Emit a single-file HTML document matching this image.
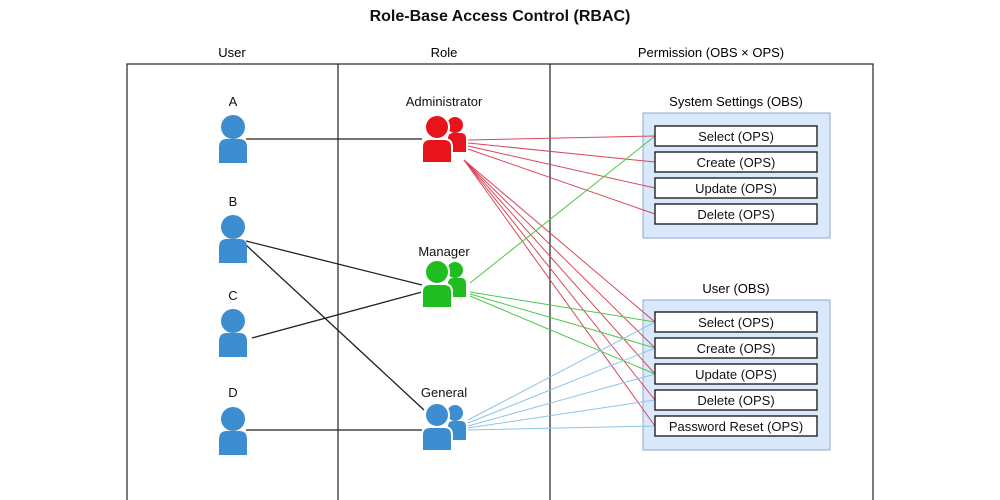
<!DOCTYPE html>
<html><head><style>
body{margin:0;background:#fff;}
svg{display:block;font-family:"Liberation Sans",sans-serif;}
</style></head><body>
<svg width="1000" height="500" viewBox="0 0 1000 500">
<defs>
<g id="u">
<circle cx="0" cy="-12" r="12"/>
<path d="M-14,24 L-14,8 Q-14,0 -6,0 L6,0 Q14,0 14,8 L14,24 Z"/>
</g>
<g id="g">
<circle cx="18" cy="-14" r="8"/>
<path d="M11,13 L11,0 Q11,-6 16,-6 L24,-6 Q29,-6 29,0 L29,13 Z"/>
<circle cx="0" cy="-12" r="12" stroke="#fff" stroke-width="2"/>
<path d="M-15,24 L-15,8 Q-15,0 -7,0 L7,0 Q15,0 15,8 L15,24 Z" stroke="#fff" stroke-width="2"/>
</g>
</defs>
<text x="500" y="21" text-anchor="middle" font-size="16" font-weight="bold" fill="#111">Role-Base Access Control (RBAC)</text>
<text x="232" y="57" text-anchor="middle" font-size="13">User</text>
<text x="444" y="57" text-anchor="middle" font-size="13">Role</text>
<text x="711" y="57" text-anchor="middle" font-size="13">Permission (OBS × OPS)</text>
<rect x="127" y="64" width="746" height="440" fill="none" stroke="#222" stroke-width="1.2"/>
<line x1="338" y1="64" x2="338" y2="500" stroke="#222" stroke-width="1.2"/>
<line x1="550" y1="64" x2="550" y2="500" stroke="#222" stroke-width="1.2"/>

<rect x="643" y="113" width="187" height="125" fill="#dae8fc" stroke="#8fa9cf"/>
<rect x="643" y="300" width="187" height="150" fill="#dae8fc" stroke="#8fa9cf"/>
<text x="736" y="106" text-anchor="middle" font-size="13">System Settings (OBS)</text>
<text x="736" y="293" text-anchor="middle" font-size="13">User (OBS)</text>

<g stroke="#222" stroke-width="1.3">
<line x1="246" y1="139" x2="422" y2="139"/>
<line x1="246" y1="241" x2="422" y2="285"/>
<line x1="246" y1="245" x2="424" y2="410"/>
<line x1="252" y1="338" x2="422" y2="292"/>
<line x1="246" y1="430" x2="422" y2="430"/>
</g>
<g stroke="#d9475a" stroke-width="1">
<line x1="468" y1="140" x2="655" y2="136"/>
<line x1="468" y1="143" x2="655" y2="162"/>
<line x1="468" y1="146" x2="655" y2="188"/>
<line x1="468" y1="149" x2="655" y2="214"/>
<line x1="464" y1="160" x2="655" y2="322"/>
<line x1="464" y1="160" x2="655" y2="348"/>
<line x1="464" y1="160" x2="655" y2="374"/>
<line x1="464" y1="160" x2="655" y2="400"/>
<line x1="464" y1="160" x2="655" y2="426"/>
</g>
<g stroke="#4cc84c" stroke-width="1">
<line x1="470" y1="283" x2="655" y2="136"/>
<line x1="470" y1="292" x2="655" y2="322"/>
<line x1="470" y1="294" x2="655" y2="348"/>
<line x1="470" y1="296" x2="655" y2="374"/>
</g>
<g stroke="#8ec3e6" stroke-width="1">
<line x1="468" y1="420" x2="655" y2="322"/>
<line x1="468" y1="423" x2="655" y2="348"/>
<line x1="468" y1="426" x2="655" y2="374"/>
<line x1="468" y1="428" x2="655" y2="400"/>
<line x1="468" y1="430" x2="655" y2="426"/>
</g>

<g fill="#fff" stroke="#111" stroke-width="1.3" font-size="13">
<rect x="655" y="126" width="162" height="20"/>
<rect x="655" y="152" width="162" height="20"/>
<rect x="655" y="178" width="162" height="20"/>
<rect x="655" y="204" width="162" height="20"/>
<rect x="655" y="312" width="162" height="20"/>
<rect x="655" y="338" width="162" height="20"/>
<rect x="655" y="364" width="162" height="20"/>
<rect x="655" y="390" width="162" height="20"/>
<rect x="655" y="416" width="162" height="20"/>
</g>
<g font-size="13" text-anchor="middle" fill="#111">
<text x="736" y="141">Select (OPS)</text>
<text x="736" y="167">Create (OPS)</text>
<text x="736" y="193">Update (OPS)</text>
<text x="736" y="219">Delete (OPS)</text>
<text x="736" y="327">Select (OPS)</text>
<text x="736" y="353">Create (OPS)</text>
<text x="736" y="379">Update (OPS)</text>
<text x="736" y="405">Delete (OPS)</text>
<text x="736" y="431">Password Reset (OPS)</text>
<text x="233" y="106">A</text>
<text x="233" y="206">B</text>
<text x="233" y="300">C</text>
<text x="233" y="397">D</text>
<text x="444" y="106">Administrator</text>
<text x="444" y="256">Manager</text>
<text x="444" y="397">General</text>
</g>
<g fill="#3d8ed0">
<use href="#u" x="233" y="139"/>
<use href="#u" x="233" y="239"/>
<use href="#u" x="233" y="333"/>
<use href="#u" x="233" y="431"/>
</g>
<use href="#g" x="437" y="139" fill="#e8141c"/>
<use href="#g" x="437" y="284" fill="#1fbd1f"/>
<use href="#g" x="437" y="427" fill="#3d8ed0"/>
</svg>
</body></html>
